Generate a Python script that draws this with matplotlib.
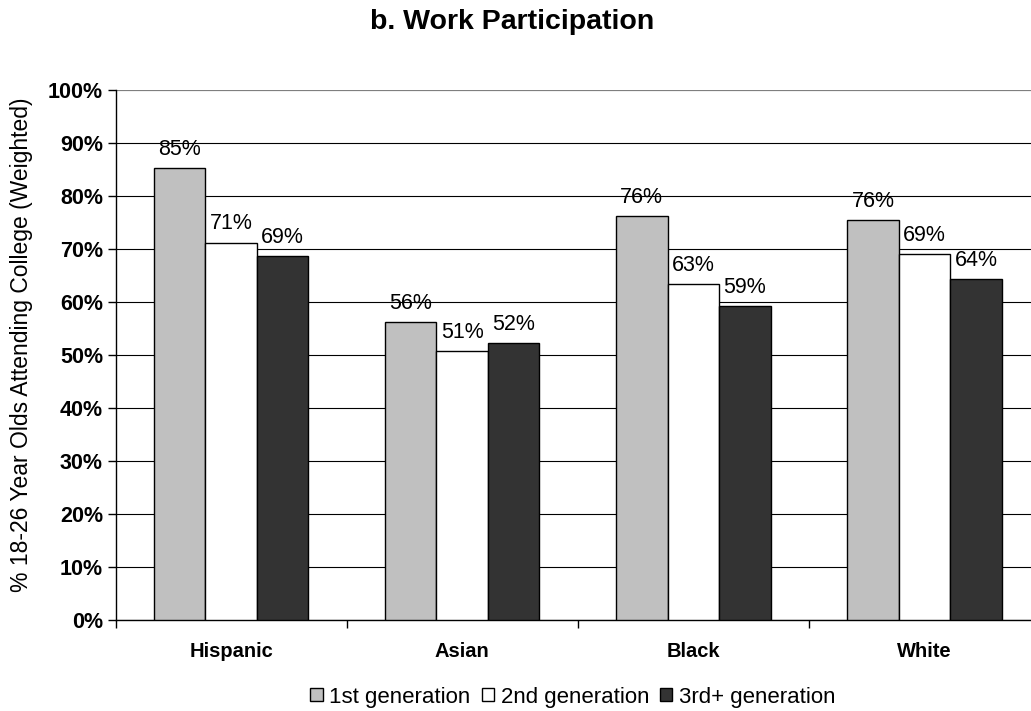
import matplotlib
matplotlib.use("Agg")
import matplotlib.pyplot as plt
import numpy as np

plt.rcParams['font.family'] = ['Liberation Sans', 'DejaVu Sans']

categories = ["Hispanic", "Asian", "Black", "White"]
series_names = ["1st generation", "2nd generation", "3rd+ generation"]
gen1 = [85.2, 56.2, 76.2, 75.5]
gen2 = [71.2, 50.7, 63.4, 69.0]
gen3 = [68.6, 52.2, 59.2, 64.3]
series_values = [gen1, gen2, gen3]
y_ticks = [0, 10, 20, 30, 40, 50, 60, 70, 80, 90, 100]
colors = ["#C0C0C0", "#FFFFFF", "#333333"]

fig = plt.figure(figsize=(10.31, 7.11), dpi=100)
ax = fig.add_axes([115.5 / 1031, 1 - 620 / 711, (1040 - 115.5) / 1031, 530 / 711])

x = np.arange(len(categories))
width = 0.223
offsets = [-width, 0, width]

for vals, off, col, name in zip(series_values, offsets, colors, series_names):
    bars = ax.bar(x + off, vals, width, color=col, edgecolor="black",
                  linewidth=1.0, label=name, zorder=3)
    for b, v in zip(bars, vals):
        ax.annotate(f"{int(v + 0.5)}%", (b.get_x() + b.get_width() / 2, v),
                    xytext=(0, 6), textcoords="offset points",
                    ha="center", va="bottom", fontsize=15.5, zorder=4)

ax.set_xlim(-0.5, len(categories) - 0.5)
ax.set_ylim(0, 100)
ax.set_yticks(y_ticks)
ax.set_yticklabels([f"{t}%" for t in y_ticks], fontsize=15.5, fontweight="bold")
ax.yaxis.grid(True, color="black", linewidth=0.8, zorder=0)
ax.set_axisbelow(True)

# category boundaries carry the tick marks, names sit at the centres
ax.set_xticks(np.arange(len(categories) + 1) - 0.5)
ax.set_xticklabels([])
ax.set_xticks(x, minor=True)
ax.set_xticklabels(categories, minor=True, fontsize=14.5, fontweight="bold")
ax.tick_params(axis="x", which="major", length=6, width=1, direction="out")
ax.tick_params(axis="x", which="minor", length=0, pad=16)
ax.tick_params(axis="y", length=6, width=1, direction="out", pad=3)

for s in ["top", "right"]:
    ax.spines[s].set_visible(False)
ax.spines["left"].set_linewidth(1)
ax.spines["bottom"].set_linewidth(1)
ax.axhline(100, color="#999999", linewidth=1.2, zorder=1)

fig.text(22 / 1031, 1 - 345 / 711, "% 18-26 Year Olds Attending College (Weighted)",
         rotation=90, ha="center", va="center", fontsize=16.5)

fig.text(512 / 1031, 1 - 22 / 711, "b. Work Participation", ha="center", va="center",
         fontsize=20.5, fontweight="bold")

leg = fig.legend(loc="center", bbox_to_anchor=(573 / 1031, 1 - 697 / 711), ncol=3,
                 frameon=False, fontsize=16, handlelength=0.55, handleheight=0.55,
                 handletextpad=0.3, columnspacing=0.5)

fig.savefig("out.png", dpi=100)
